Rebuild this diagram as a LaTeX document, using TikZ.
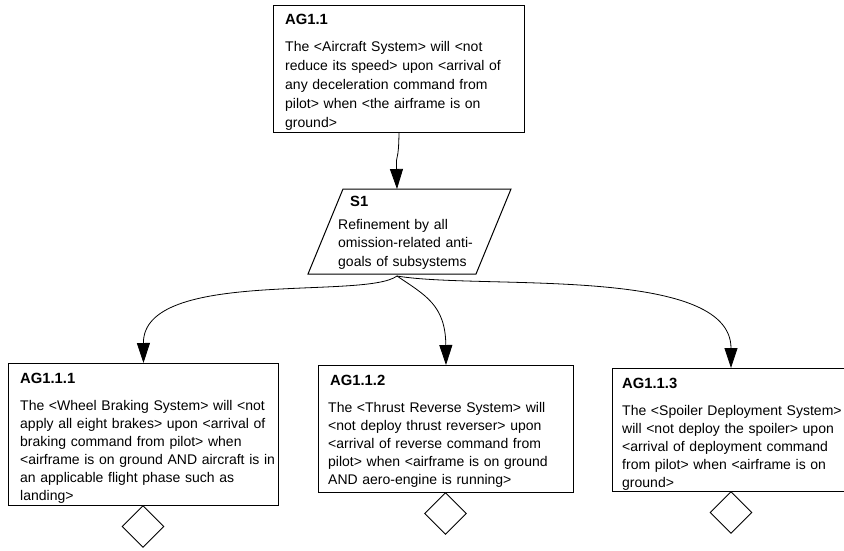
\documentclass[tikz,border=0pt]{standalone}
\usepackage{fontspec}
\setmainfont{Liberation Sans}
\usetikzlibrary{arrows.meta,shapes.geometric}

\tikzset{
  goalbox/.style={draw=black, line width=1pt, fill=white, inner sep=0pt, anchor=north west},
  titletext/.style={anchor=base west, inner sep=0pt, font=\fontsize{14.8}{18}\selectfont\bfseries},
  bodytext/.style={anchor=base west, inner sep=0pt, align=left, text width=#1,
    font=\fontsize{14}{18}\selectfont},
  bodytext/.default=250pt,
  andgate/.style={diamond, draw=black, line width=0.9pt, fill=white, inner sep=0pt,
    minimum width=42pt, minimum height=42pt, anchor=north},
  arr/.style={line width=0.8pt, -{Triangle[length=20pt,width=13pt]}}
}

\begin{document}
\begin{tikzpicture}[x=1pt, y=-1pt]
\useasboundingbox (0,0) rectangle (844,550);
\fill[white] (0,0) rectangle (844,550);

% top anti-goal
\node[goalbox, minimum width=251pt, minimum height=127pt] (ag11) at (273,5) {};
\node[titletext] (ag11t) at (285,24) {AG1.1};
\node[bodytext=235pt, font=\fontsize{14}{19}\selectfont] (ag11b) at (285,51) {The <Aircraft System> will <not\\
reduce its speed> upon <arrival of\\
any deceleration command from\\
pilot> when <the airframe is on\\
ground>};

% strategy (parallelogram)
\draw[line width=1pt, fill=white] (343,189) -- (511,189) -- (476,274) -- (308,274) -- cycle;
\coordinate (s1top) at (397,189);
\coordinate (s1bot) at (397,276);
\node[titletext] (s1t) at (350,206) {S1};
\node[bodytext=160pt, font=\fontsize{14}{18.5}\selectfont] (s1b) at (338,229) {Refinement by all\\
omission-related anti-\\
goals of subsystems};

% sub anti-goals
\node[goalbox, minimum width=270pt, minimum height=142pt] (ag111) at (8,363) {};
\node[titletext] (ag111t) at (20,383) {AG1.1.1};
\node[bodytext=255pt] (ag111b) at (20,410) {The <Wheel Braking System> will <not\\
apply all eight brakes> upon <arrival of\\
braking command from pilot> when\\
<airframe is on ground AND aircraft is in\\
an applicable flight phase such as\\
landing>};

\node[goalbox, minimum width=255pt, minimum height=127pt] (ag112) at (318,365) {};
\node[titletext] (ag112t) at (330,385) {AG1.1.2};
\node[bodytext=240pt] (ag112b) at (328,412) {The <Thrust Reverse System> will\\
<not deploy thrust reverser> upon\\
<arrival of reverse command from\\
pilot> when <airframe is on ground\\
AND aero-engine is running>};

\node[goalbox, minimum width=240pt, minimum height=123pt] (ag113) at (612,368) {};
\node[titletext] (ag113t) at (622,388) {AG1.1.3};
\node[bodytext=220pt] (ag113b) at (622,415) {The <Spoiler Deployment System>\\
will <not deploy the spoiler> upon\\
<arrival of deployment command\\
from pilot> when <airframe is on\\
ground>};

% AND decomposition markers
\node[andgate] (g1) at (143,505) {};
\node[andgate] (g2) at (445.5,492) {};
\node[andgate] (g3) at (731,491) {};

% connectors
\draw[arr] (ag11.south) .. controls (398.5,165) and (396,150) .. (s1top);
\draw[arr] (s1bot) .. controls (365,300) and (143,268) .. (ag111.north);
\draw[arr] (s1bot) .. controls (425,295) and (445.5,305) .. (ag112.north);
\draw[arr] (s1bot) .. controls (480,290) and (731,265) .. (731,368);
\end{tikzpicture}
\end{document}
